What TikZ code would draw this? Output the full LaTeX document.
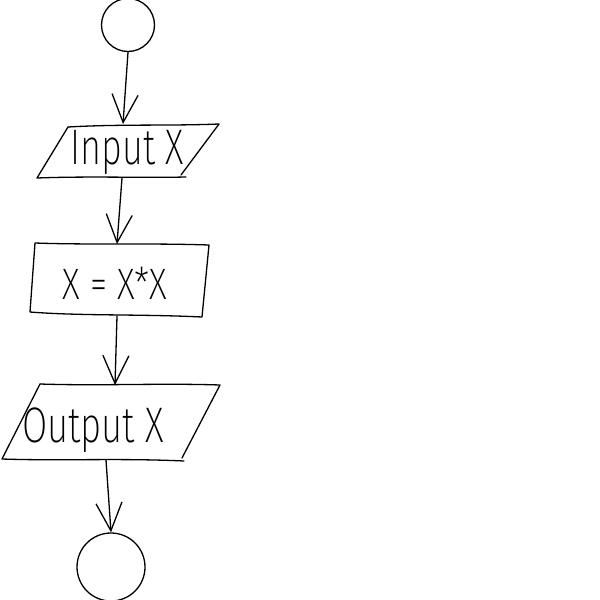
\documentclass[tikz,border=0pt]{standalone}
\usepackage{fontspec}
\usetikzlibrary{arrows.meta}
\newfontfamily\handfont{Fira Sans ExtraLight}
\tikzset{
  pen/.style={line width=1.3pt, line join=round, line cap=round},
  flow/.style={pen, -{Straight Barb[length=28pt,width=26pt,line width=1.3pt]}},
  lbl/.style={font=\handfont\fontsize{50}{50}\selectfont, inner sep=0pt},
  term/.style={pen, draw, circle, inner sep=0pt}
}
\begin{document}
\begin{tikzpicture}[x=1pt,y=-1pt]
\useasboundingbox (0,0) rectangle (600,600);

% start and stop terminals
\node[term, minimum size=53pt] (start) at (128,25) {};
\node[term, minimum size=68pt] (stop) at (111,567) {};

% input parallelogram
\draw[pen] (68,127) .. controls (120,124) and (170,126) .. (219,124)
  -- (181,175);
\draw[pen] (68,127) -- (37,178) .. controls (90,176) and (140,178) .. (186,177);
\node[lbl] (input) at (127,152) {\scalebox{0.72}[1]{Input X}};

% process box
\draw[pen] (35,243) .. controls (90,245) and (150,243) .. (209,245)
  -- (202,317) .. controls (140,314) and (80,316) .. (30,312) -- cycle;
\node[lbl, font=\handfont\fontsize{44}{44}\selectfont] (proc) at (115,283) {\scalebox{0.79}[1]{X = X*X}};

% output parallelogram
\draw[pen] (40,384) .. controls (100,386) and (160,383) .. (220,385)
  -- (182,458);
\draw[pen] (40,384) -- (2,459) .. controls (60,461) and (120,458) .. (184,461);
\node[lbl] (output) at (93,430) {\scalebox{0.73}[1]{Output X}};

% connector end points on the box edges
\coordinate (inTop) at (123,124);
\coordinate (inBot) at (122,178);
\coordinate (procTop) at (117,244);
\coordinate (procBot) at (117,316);
\coordinate (outTop) at (115,385);
\coordinate (outBot) at (106,460);

% connectors
\draw[flow] (start.south) -- (inTop);
\draw[flow] (inBot) -- (procTop);
\draw[flow] (procBot) -- (outTop);
\draw[flow] (outBot) -- (stop.north);
\end{tikzpicture}
\end{document}
